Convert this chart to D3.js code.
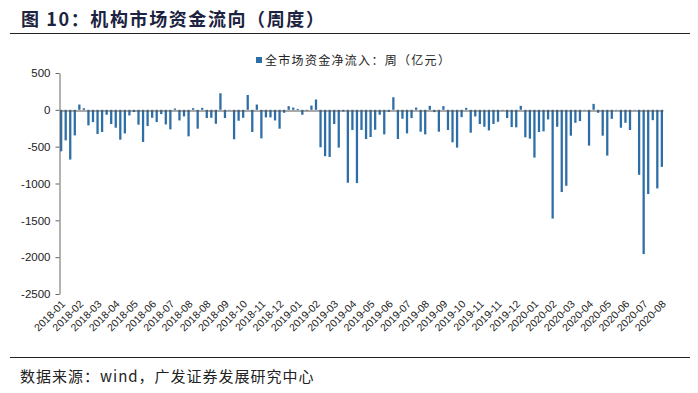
<!DOCTYPE html>
<html>
<head>
    <meta charset="utf-8">
    <script src="https://d3js.org/d3.v7.min.js"></script>
    <style>
        body { margin: 0; background: #fff; }
        svg { font-family: "Liberation Sans", Arial, sans-serif; }
    </style>
</head>
<body>
    <svg width="698" height="393"></svg>

    <script>
        // 周度全市场资金净流入（亿元）
        var values = [
            -563, -414, -675, -347, 72, 22, -211, -166, -328, -301, -67, -193, -243, -405, -320, -76, -30, -202, -436, -220, -108, -166, -58, -198, -265, 18, -144,
            -90, -360, 22, -256, 27, -112, -108, -189, 225, -112, -5, -400, -148, -108, 202, -301, 72, -387, -103, -103, -144, -256, -40, 50, 31, 13, -67,
            -10, 58, 140, -508, -630, -639, -193, -513, -22, -990, -274, -994, -274, -396, -369, -270, -67, -333, -27, 171, -396, -121, -320, -112, 31, -297, -333,
            54, -31, -297, 50, -274, -441, -513, -99, 27, -310, -90, -193, -230, -279, -193, -162, -8, -112, -234, -238, 54, -373, -391, -648, -301, -292,
            -130, -1476, -230, -1116, -1031, -351, -176, -153, -5, -486, 81, -40, -351, -621, -122, -5, -243, -176, -274, -5, -882, -1958, -1143, -140, -1067, -774
        ];

        // 每4周一个刻度标签
        var tickLabels = [
            '2018-01', '2018-02', '2018-03', '2018-04', '2018-05', '2018-06', '2018-07', '2018-08', '2018-08',
            '2018-09', '2018-10', '2018-11', '2018-12', '2019-01', '2019-02', '2019-03', '2019-04', '2019-05',
            '2019-06', '2019-07', '2019-08', '2019-09', '2019-10', '2019-11', '2019-11', '2019-12', '2020-01',
            '2020-02', '2020-03', '2020-04', '2020-05', '2020-06', '2020-07', '2020-08'
        ];
        var yTicks = [500, 0, -500, -1000, -1500, -2000, -2500];

        var title = '图 10：机构市场资金流向（周度）';
        var seriesName = '全市场资金净流入：周（亿元）';
        var source = '数据来源：wind，广发证券发展研究中心';

        var weeks = values.map(function(v, i) { return i; });

        var svg = d3.select("svg");
        var barColor = "#2e6ea6";
        var cjk = "'Noto Sans CJK SC', sans-serif";

        var x = d3.scaleBand()
            .domain(weeks)
            .range([60, 663])
            .paddingInner(0.5)
            .paddingOuter(0);

        var y = d3.scaleLinear()
            .domain([-2500, 500])
            .range([294, 73]);

        // 标题和分隔线
        svg.append("text")
            .attr("x", 21)
            .attr("y", 26)
            .attr("font-size", 18)
            .attr("font-weight", "bold")
            .attr("letter-spacing", 1.6)
            .attr("fill", "#1c2340")
            .style("font-family", cjk)
            .text(title);

        svg.append("line")
            .attr("x1", 10).attr("x2", 690)
            .attr("y1", 33.5).attr("y2", 33.5)
            .attr("stroke", "#222").attr("stroke-width", 1.2);

        svg.append("line")
            .attr("x1", 10).attr("x2", 690)
            .attr("y1", 357.5).attr("y2", 357.5)
            .attr("stroke", "#222").attr("stroke-width", 1);

        svg.append("text")
            .attr("x", 20)
            .attr("y", 382)
            .attr("font-size", 15)
            .attr("letter-spacing", 1)
            .attr("fill", "#222")
            .style("font-family", cjk)
            .text(source);

        // 图例
        svg.append("rect")
            .attr("x", 256).attr("y", 57)
            .attr("width", 6).attr("height", 6)
            .attr("fill", barColor);

        svg.append("text")
            .attr("x", 265)
            .attr("y", 65)
            .attr("font-size", 12)
            .attr("letter-spacing", 1.3)
            .attr("fill", "#222")
            .style("font-family", cjk)
            .text(seriesName);

        // 柱子
        svg.selectAll(".bar")
            .data(values)
            .enter().append("rect")
            .attr("class", "bar")
            .attr("x", function(d, i) { return x(i); })
            .attr("y", function(d) { return y(Math.max(0, d)); })
            .attr("width", x.bandwidth())
            .attr("height", function(d) { return Math.abs(y(d) - y(0)); })
            .attr("fill", barColor);

        // y轴
        var yAxis = svg.append("g")
            .attr("transform", "translate(59.5,0)")
            .call(d3.axisLeft(y)
                .tickValues(yTicks)
                .tickFormat(function(d) { return String(d); })
                .tickSize(4)
                .tickSizeOuter(0));
        yAxis.selectAll("path, line").attr("stroke", "#666");
        yAxis.selectAll("text")
            .attr("font-size", 11.5)
            .attr("fill", "#222")
            .attr("dx", -2);

        // 零线
        var zeroAxis = svg.append("g")
            .attr("transform", "translate(0," + (Math.round(y(0)) + 0.5) + ")")
            .call(d3.axisBottom(x).tickValues([]).tickSizeOuter(0));
        zeroAxis.select("path").attr("stroke", "#555").attr("stroke-width", 1.2);

        // x轴标签
        var labelAxis = svg.append("g")
            .attr("transform", "translate(0,300)")
            .call(d3.axisBottom(x)
                .tickValues(weeks.filter(function(i) { return i % 4 === 0; }))
                .tickFormat(function(i) { return tickLabels[i / 4]; })
                .tickSize(0));
        labelAxis.select(".domain").remove();
        labelAxis.selectAll("text")
            .attr("font-size", 10.5)
            .attr("fill", "#222")
            .attr("text-anchor", "end")
            .attr("dx", 0)
            .attr("dy", "0.35em")
            .attr("transform", "rotate(-45)");
    </script>
</body>
</html>
